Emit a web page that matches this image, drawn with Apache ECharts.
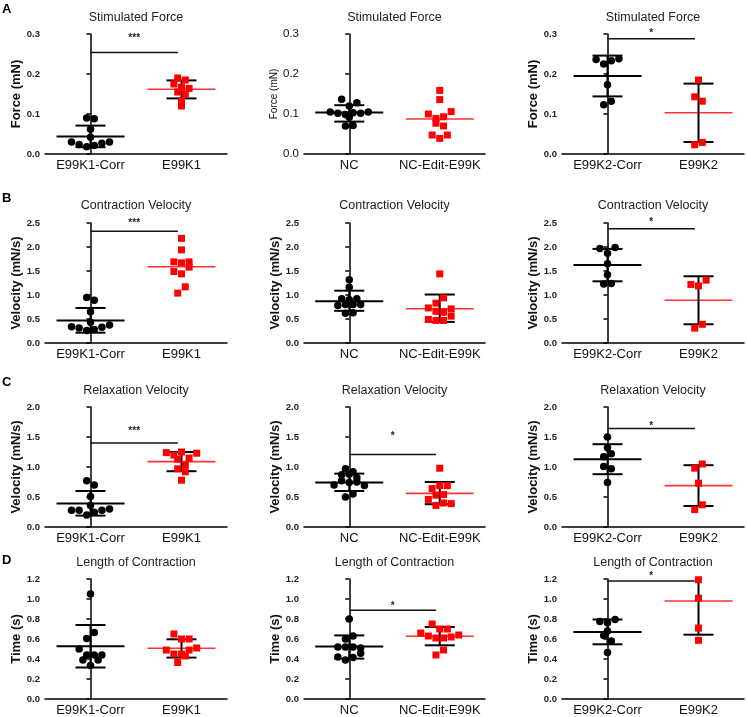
<!DOCTYPE html>
<html><head><meta charset="utf-8">
<script src="https://cdn.jsdelivr.net/npm/echarts@6/dist/echarts.min.js"></script>
<style>html,body{margin:0;padding:0;background:#fff}#c{width:747px;height:717px}</style>
</head><body><div id="c"></div>
<script>
// ---------- DATA ----------
const groupsK1 = ['E99K1-Corr', 'E99K1'];
const groupsNC = ['NC', 'NC-Edit-E99K'];
const groupsK2 = ['E99K2-Corr', 'E99K2'];
const titles = ['Stimulated Force', 'Contraction Velocity', 'Relaxation Velocity', 'Length of Contraction'];
const yNames = ['Force (mN)', 'Velocity (mN/s)', 'Velocity (mN/s)', 'Time (s)'];
const yMax = [0.3, 2.5, 2.0, 1.2];
const yStep = [0.1, 0.5, 0.5, 0.2];
const panelLetters = ['A', 'B', 'C', 'D'];

// each inner array = one horizontal row of dots (left to right)
const forceK1Corr = [[0.090, 0.088], [0.062], [0.042], [0.030, 0.024, 0.018, 0.021, 0.027, 0.030]];
const forceK1 = [[0.190, 0.185], [0.175, 0.167, 0.164], [0.155, 0.150], [0.133], [0.120]];
const forceNC = [[0.137, 0.120, 0.128], [0.105, 0.102, 0.099, 0.103, 0.102, 0.105], [0.092], [0.070, 0.071]];
const forceEdit = [[0.159], [0.136], [0.100, 0.089, 0.093, 0.106], [0.077, 0.070], [0.0475, 0.039, 0.0475]];
const forceK2Corr = [[0.236, 0.225, 0.233, 0.238], [0.173], [0.123, 0.132]];
const forceK2 = [[0.185], [0.143, 0.132], [0.023, 0.029]];

const cvK1Corr = [[0.95, 0.89], [0.65], [0.43], [0.34, 0.31, 0.26, 0.28, 0.33, 0.375]];
const cvK1 = [[2.18], [1.94], [1.69, 1.67, 1.69], [1.49, 1.44, 1.58], [1.04, 1.17]];
const cvNC = [[1.32], [1.16], [0.92, 0.90, 0.92], [0.78, 0.80, 0.80, 0.80], [0.62, 0.63]];
const cvEdit = [[1.44], [0.83, 0.94], [0.73, 0.66, 0.64, 0.71], [0.49, 0.47, 0.47, 0.56]];
const cvK2Corr = [[1.97, 1.87, 1.99], [1.65], [1.42], [1.23, 1.24]];
const cvK2 = [[1.22, 1.19, 1.31], [0.31, 0.39]];

const rvK1Corr = [[0.77, 0.70], [0.51], [0.36], [0.28, 0.28, 0.20, 0.245, 0.28, 0.30]];
const rvK1 = [[1.24, 1.20, 1.25, 1.15, 1.23], [1.13, 1.03], [0.97, 0.92], [0.78]];
const rvNC = [[0.97, 0.92], [0.87, 0.88, 0.82], [0.70, 0.77, 0.74, 0.75, 0.69], [0.50, 0.55]];
const rvEdit = [[0.98], [0.64, 0.69, 0.69], [0.53, 0.54], [0.46, 0.36, 0.40, 0.39]];
const rvK2Corr = [[1.50], [1.32], [1.17, 1.22], [1.01, 0.97], [0.74]];
const rvK2 = [[0.98, 1.05], [0.73], [0.29, 0.37]];

const lenK1Corr = [[1.05], [0.605, 0.665], [0.50, 0.44, 0.44, 0.44], [0.39, 0.335, 0.39]];
const lenK1 = [[0.65, 0.60, 0.60], [0.49, 0.45, 0.45, 0.49, 0.51], [0.365, 0.43]];
const lenNC = [[0.80], [0.60, 0.63], [0.52, 0.52, 0.52, 0.51], [0.42, 0.39, 0.414, 0.457]];
const lenEdit = [[0.75, 0.70, 0.70], [0.66, 0.63, 0.61, 0.61, 0.62, 0.64], [0.44, 0.49]];
const lenK2Corr = [[0.775, 0.762, 0.795], [0.68], [0.636, 0.58], [0.464]];
const lenK2 = [[1.193], [1.008], [0.709], [0.587]];

// [mean, mean-SD, mean+SD] ; null = no SD bar drawn
const statForceK1Corr = [0.044, 0.017, 0.071], statForceK1 = [0.162, 0.139, 0.184];
const statForceNC = [0.104, 0.081, 0.122], statForceEdit = [0.0875, null, null];
const statForceK2Corr = [0.195, 0.144, 0.246], statForceK2 = [0.103, 0.030, 0.176];
const statCvK1Corr = [0.47, 0.215, 0.73], statCvK1 = [1.59, null, null];
const statCvNC = [0.87, 0.67, 1.09], statCvEdit = [0.715, 0.44, 1.01];
const statCvK2Corr = [1.625, 1.285, 1.96], statCvK2 = [0.89, 0.39, 1.39];
const statRvK1Corr = [0.39, 0.19, 0.60], statRvK1 = [1.09, 0.93, 1.25];
const statRvNC = [0.74, 0.60, 0.89], statRvEdit = [0.56, 0.38, 0.75];
const statRvK2Corr = [1.13, 0.88, 1.38], statRvK2 = [0.69, 0.35, 1.03];
const statLenK1Corr = [0.527, 0.315, 0.74], statLenK1 = [0.507, 0.414, 0.597];
const statLenNC = [0.524, 0.404, 0.636], statLenEdit = [0.627, 0.537, 0.72];
const statLenK2Corr = [0.67, 0.547, 0.795], statLenK2 = [0.98, 0.643, 1.317];

// significance: [bar value, star value, label]
const sigForceK1 = [0.254, 0.297, '***'];
const sigForceK2 = [0.288, 0.310, '*'];
const sigCvK1 = [2.33, 2.56, '***'];
const sigCvK2 = [2.38, 2.57, '*'];
const sigRvK1 = [1.40, 1.65, '***'];
const sigRvNC = [1.21, 1.56, '*'];
const sigRvK2 = [1.64, 1.73, '*'];
const sigLenNC = [0.888, 0.955, '*'];
const sigLenK2 = [1.18, 1.26, '*'];

// ---------- LAYOUT ----------
const FONT = '"Liberation Sans", Arial, Helvetica, sans-serif';
const colLeft = [45, 304, 562], colWidth = [182, 181, 182];
const rowTop = [34, 223, 407, 579], rowHeight = [120, 120, 120, 121];
const titleTop = [11, 199, 384, 556];
const letterTop = [3, 192, 376, 554];

const panels = [
  { r: 0, c: 0, g: groupsK1, pts: [forceK1Corr, forceK1], st: [statForceK1Corr, statForceK1], sig: sigForceK1 },
  { r: 0, c: 1, g: groupsNC, pts: [forceNC, forceEdit], st: [statForceNC, statForceEdit], sig: null, small: true },
  { r: 0, c: 2, g: groupsK2, pts: [forceK2Corr, forceK2], st: [statForceK2Corr, statForceK2], sig: sigForceK2 },
  { r: 1, c: 0, g: groupsK1, pts: [cvK1Corr, cvK1], st: [statCvK1Corr, statCvK1], sig: sigCvK1 },
  { r: 1, c: 1, g: groupsNC, pts: [cvNC, cvEdit], st: [statCvNC, statCvEdit], sig: null },
  { r: 1, c: 2, g: groupsK2, pts: [cvK2Corr, cvK2], st: [statCvK2Corr, statCvK2], sig: sigCvK2 },
  { r: 2, c: 0, g: groupsK1, pts: [rvK1Corr, rvK1], st: [statRvK1Corr, statRvK1], sig: sigRvK1 },
  { r: 2, c: 1, g: groupsNC, pts: [rvNC, rvEdit], st: [statRvNC, statRvEdit], sig: sigRvNC },
  { r: 2, c: 2, g: groupsK2, pts: [rvK2Corr, rvK2], st: [statRvK2Corr, statRvK2], sig: sigRvK2 },
  { r: 3, c: 0, g: groupsK1, pts: [lenK1Corr, lenK1], st: [statLenK1Corr, statLenK1], sig: null },
  { r: 3, c: 1, g: groupsNC, pts: [lenNC, lenEdit], st: [statLenNC, statLenEdit], sig: sigLenNC },
  { r: 3, c: 2, g: groupsK2, pts: [lenK2Corr, lenK2], st: [statLenK2Corr, statLenK2], sig: sigLenK2 }
];

const grid = [], xAxis = [], yAxis = [], series = [], title = [];
const RED = '#ff0000', REDLINE = '#ff3333', BLK = '#000';

function renderStats(params, api) {
  const g = api.value(0), m = api.value(1), lo = api.value(2), hi = api.value(3), sd = api.value(4);
  const c = api.coord([g, m]);
  const kids = [{
    type: 'line', shape: { x1: c[0] - 34, y1: c[1], x2: c[0] + 34, y2: c[1] },
    style: { stroke: g ? REDLINE : BLK, lineWidth: g ? 1.6 : 2 }
  }];
  if (sd) {
    const a = api.coord([g, lo]), b = api.coord([g, hi]);
    const st = { stroke: BLK, lineWidth: 2 };
    kids.push({ type: 'line', shape: { x1: a[0], y1: a[1], x2: b[0], y2: b[1] }, style: st });
    kids.push({ type: 'line', shape: { x1: a[0] - 15, y1: a[1], x2: a[0] + 15, y2: a[1] }, style: st });
    kids.push({ type: 'line', shape: { x1: b[0] - 15, y1: b[1], x2: b[0] + 15, y2: b[1] }, style: st });
  }
  return { type: 'group', children: kids };
}

function makeSigRender(label) {
  return function (params, api) {
    const a = api.coord([0, api.value(1)]), b = api.coord([0.96, api.value(1)]);
    const s = api.coord([0.48, api.value(2)]);
    return {
      type: 'group', children: [
        { type: 'line', shape: { x1: a[0], y1: a[1], x2: b[0], y2: b[1] }, style: { stroke: '#111', lineWidth: 1.5 } },
        { type: 'text', x: s[0], y: s[1] + 3, style: { text: label, textAlign: 'center', textVerticalAlign: 'middle', font: 'bold 10px ' + FONT, fill: '#222' } }
      ]
    };
  };
}

panels.forEach((p, i) => {
  const left = colLeft[p.c], width = colWidth[p.c], top = rowTop[p.r], height = rowHeight[p.r];
  grid.push({ left, top, width, height });
  xAxis.push({
    type: 'category', gridIndex: i, data: p.g, boundaryGap: true,
    axisLine: { lineStyle: { color: BLK, width: 1.5 } },
    axisTick: { alignWithLabel: true, length: 4, lineStyle: { color: BLK, width: 1.5 } },
    axisLabel: { interval: 0, hideOverlap: false, fontFamily: FONT, fontSize: 13, color: '#111', margin: 5 },
    splitLine: { show: false }
  });
  xAxis.push({ type: 'value', gridIndex: i, min: -0.5, max: 1.5, show: false });
  yAxis.push({
    type: 'value', gridIndex: i, min: 0, max: yMax[p.r], interval: yStep[p.r],
    name: yNames[p.r], nameLocation: 'middle', nameGap: p.small ? 22 : 20,
    nameTextStyle: p.small ? { fontFamily: FONT, fontSize: 10, color: '#111' }
                           : { fontFamily: FONT, fontSize: 13, fontWeight: 'bold', color: '#111' },
    axisLine: { show: true, lineStyle: { color: BLK, width: 1.5 } },
    axisTick: { show: true, length: 4, lineStyle: { color: BLK, width: 1.5 } },
    axisLabel: p.small ? { fontFamily: FONT, fontSize: 11.5, color: '#111', margin: 5, formatter: v => v.toFixed(1) }
                       : { fontFamily: FONT, fontSize: 9.5, fontWeight: 'bold', color: '#222', margin: 5, formatter: v => v.toFixed(1) },
    splitLine: { show: false }
  });
  title.push({
    text: titles[p.r], left: left + width / 2, top: titleTop[p.r], textAlign: 'center', padding: 0,
    textStyle: { fontFamily: FONT, fontSize: 12.5, fontWeight: 'normal', color: '#222' }
  });
  const unit = 7.6 / (width / 2);
  [0, 1].forEach(g => {
    const pts = [];
    p.pts[g].forEach(row => row.forEach((v, k) => pts.push([g + (k - (row.length - 1) / 2) * unit, v])));
    series.push({
      type: 'scatter', xAxisIndex: 2 * i + 1, yAxisIndex: i, data: pts, silent: true,
      symbol: g ? 'rect' : 'circle', symbolSize: g ? 7 : 7.5,
      itemStyle: { color: g ? RED : BLK, opacity: 1 }, z: 5
    });
  });
  series.push({
    type: 'custom', xAxisIndex: 2 * i + 1, yAxisIndex: i, clip: true, silent: true, z: 3,
    data: p.st.map((s, g) => [g, s[0], s[1] == null ? s[0] : s[1], s[2] == null ? s[0] : s[2], s[1] == null ? 0 : 1]),
    encode: { x: 0, y: 1 },
    renderItem: renderStats
  });
  if (p.sig) {
    series.push({
      type: 'custom', xAxisIndex: 2 * i + 1, yAxisIndex: i, clip: false, silent: true, z: 4,
      data: [[0, p.sig[0], p.sig[1]]], encode: { x: 0, y: 1 },
      renderItem: makeSigRender(p.sig[2])
    });
  }
});

panelLetters.forEach((L, r) => {
  title.push({ text: L, left: 2, top: letterTop[r], padding: 0, textStyle: { fontFamily: FONT, fontSize: 13, fontWeight: 'bold', color: '#000' } });
});

const chart = echarts.init(document.getElementById('c'), null, { renderer: 'canvas' });
chart.setOption({ animation: false, backgroundColor: '#fff', title, grid, xAxis, yAxis, series });
</script></body></html>
